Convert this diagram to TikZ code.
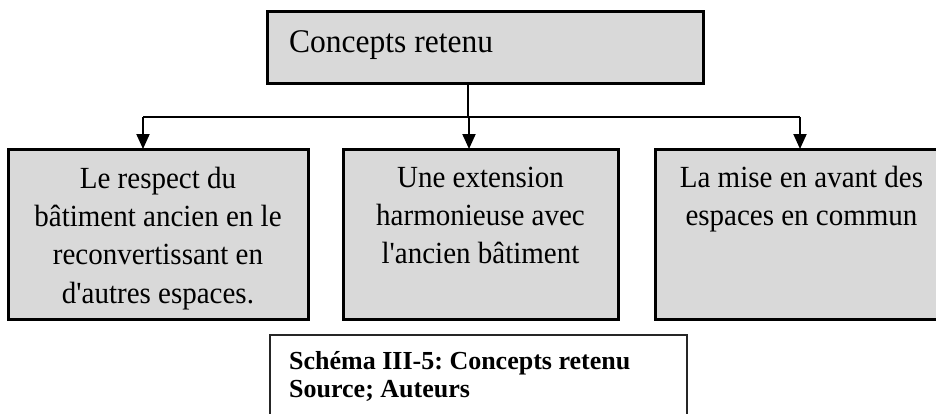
\documentclass[tikz,border=0pt]{standalone}
\usepackage{graphicx}
\usepackage{fontspec}
\setmainfont{Liberation Serif}
\frenchspacing
\usetikzlibrary{arrows.meta}
\definecolor{boxgray}{HTML}{D9D9D9}
\newcommand{\mychildtxt}[2]{\scalebox{1}[1.06]{\parbox[t]{#1}{\centering\fontsize{29}{36.3}\selectfont #2}}}
\begin{document}
\begin{tikzpicture}[x=1pt,y=-1pt,
  box/.style={draw=black, line width=3pt, fill=boxgray, inner sep=0pt},
  conn/.style={line width=2pt},
  arr/.style={conn, -{Triangle[length=15pt,width=13pt]}},
  childtext/.style={anchor=base, inner sep=0pt},
  capbox/.style={draw=black!85, line width=1.5pt, fill=white, inner sep=0pt},
]
\useasboundingbox (0,0) rectangle (936,413);
\clip (0,0) rectangle (936,413);

% top box
\node[box, minimum width=436pt, minimum height=72pt] (top) at (485,47) {};
\node[anchor=base west, inner sep=0pt] (toptext) at (289,52) {\scalebox{1}[1.05]{\fontsize{31.5}{36}\selectfont Concepts retenu}};

% child boxes
\node[box, minimum width=300pt, minimum height=170pt] (left) at (158,234) {};
\node[box, minimum width=275pt, minimum height=170pt] (mid) at (480.5,234) {};
\node[box, minimum width=293pt, minimum height=170pt] (right) at (801.5,234) {};

\node[childtext] (lefttext) at (158,188) {\mychildtxt{290pt}{Le respect du\\b\^atiment ancien en le\\reconvertissant en\\d\textquotesingle autres espaces.}};
\node[childtext] (midtext) at (480.5,187) {\mychildtxt{265pt}{Une extension\\harmonieuse avec\\l\textquotesingle ancien b\^atiment}};
\node[childtext] (righttext) at (801.5,187) {\mychildtxt{285pt}{La mise en avant des\\espaces en commun}};

% connectors
\coordinate (jt) at (468,117);
\coordinate (a1) at (143,149);
\coordinate (a2) at (469,149);
\coordinate (a3) at (800,149);
\draw[conn] (top.south -| jt) -- (jt);
\draw[conn] (a1 |- jt) -- (a3 |- jt);
\draw[arr] (a1 |- jt) -- (a1);
\draw[arr] (a2 |- jt) -- (a2);
\draw[arr] (a3 |- jt) -- (a3);

% caption
\node[capbox, minimum width=417pt, minimum height=110pt, anchor=north west] (cap) at (269,334) {};
\node[anchor=base west, inner sep=0pt] (captxt) at (289,369) {\parbox[t]{380pt}{\raggedright\bfseries\fontsize{26}{28.5}\selectfont Sch\'ema III-5: Concepts retenu\\Source; Auteurs}};
\end{tikzpicture}
\end{document}
